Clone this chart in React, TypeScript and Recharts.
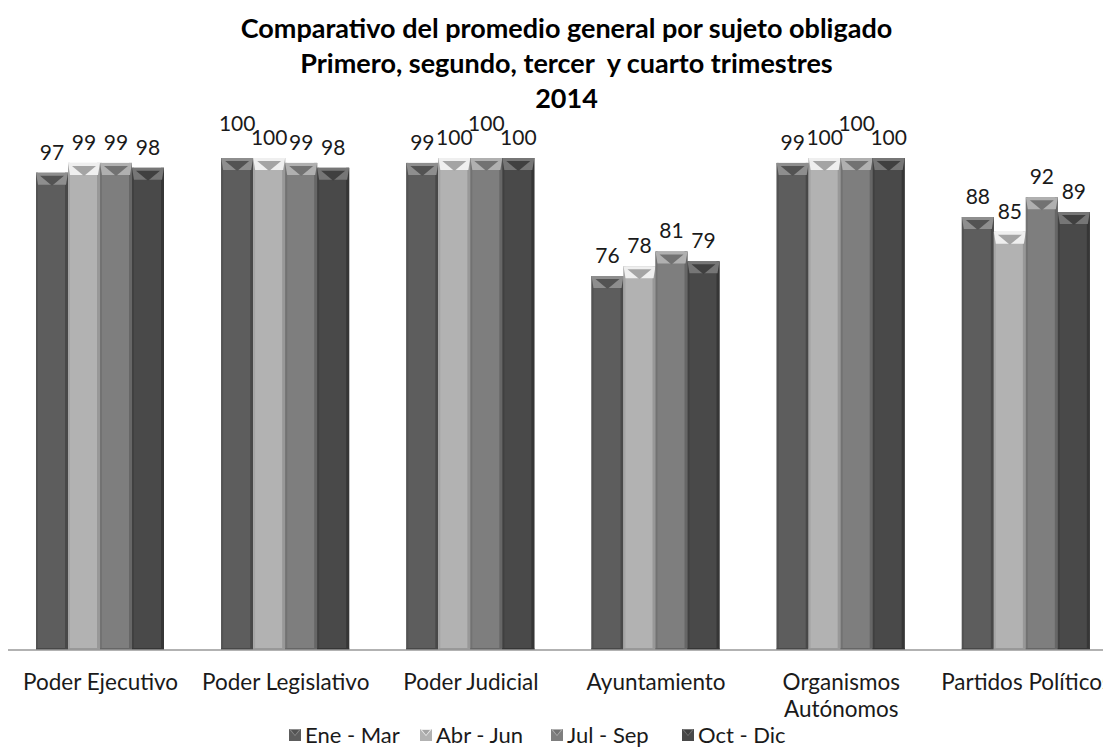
import React from 'react';
import { BarChart, Bar, XAxis, YAxis, LabelList, Legend } from 'recharts';

const categories = [
  'Poder Ejecutivo',
  'Poder Legislativo',
  'Poder Judicial',
  'Ayuntamiento',
  'Organismos Autónomos',
  'Partidos Políticos',
];
const eneMar = [97, 100, 99, 76, 99, 88];
const abrJun = [99, 100, 100, 78, 100, 85];
const julSep = [99, 99, 100, 81, 100, 92];
const octDic = [98, 98, 100, 79, 100, 89];
const seriesNames = ['Ene - Mar', 'Abr - Jun', 'Jul - Sep', 'Oct - Dic'];
const titleLines = [
  'Comparativo del promedio general por sujeto obligado',
  'Primero, segundo, tercer  y cuarto trimestres',
  '2014',
];

const seriesValues = [eneMar, abrJun, julSep, octDic];
const data = categories.map((name, i) => ({
  name,
  s0: eneMar[i],
  s1: abrJun[i],
  s2: julSep[i],
  s3: octDic[i],
}));

const FONT = 'Lato, "Open Sans", sans-serif';
const LABEL_SIZE = 21;

const palette = [
  { base: '#5d5d5d', light: '#8e8e8e', mid: '#535353', edge: '#484848' },
  { base: '#b2b2b2', light: '#efefef', mid: '#a4a4a4', edge: '#989898' },
  { base: '#7e7e7e', light: '#b0b0b0', mid: '#727272', edge: '#666666' },
  { base: '#494949', light: '#767676', mid: '#404040', edge: '#363636' },
];

const makeShape = (si: number) => (props: any) => {
  const { x, y, width: w, height: h } = props;
  if (!w || !h) return null;
  const c = palette[si];
  const b = Math.min(12, h);
  return (
    <g>
      <rect x={x} y={y} width={w} height={h} fill={c.base} />
      <rect x={x} y={y} width={2} height={h} fill={c.mid} />
      <rect x={x + w - 3} y={y} width={3} height={h} fill={c.edge} />
      <polygon
        points={`${x},${y} ${x + w},${y} ${x + w - 2},${y + b} ${x + 2},${y + b}`}
        fill={c.light}
      />
      <polygon
        points={`${x + 4},${y + 3} ${x + w - 4},${y + 3} ${x + w / 2},${y + b + 1}`}
        fill={c.mid}
      />
      <rect x={x} y={y + h - 2} width={w} height={2} fill={c.edge} />
    </g>
  );
};

// Overlap avoidance for data labels: in each category, runs of labels that
// would collide get alternate ones lifted.
const labelWidth = (v: number) => String(v).length * 0.58 * LABEL_SIZE;
const liftedFor = (ci: number, barW: number) => {
  const vals = seriesValues.map((s) => s[ci]);
  const lifted = new Set<number>();
  let run: number[] = [];
  const flush = () => {
    if (run.length > 1) {
      for (let k = 0; k < run.length; k++) {
        if ((run.length - 1 - k) % 2 === 1) lifted.add(run[k]);
      }
    }
    run = [];
  };
  for (let i = 0; i < vals.length; i++) {
    if (run.length === 0) run.push(i);
    const j = i + 1;
    if (j < vals.length) {
      const overlap =
        (labelWidth(vals[i]) + labelWidth(vals[j])) / 2 > barW &&
        Math.abs(vals[i] - vals[j]) <= 2;
      if (overlap) run.push(j);
      else flush();
    } else flush();
  }
  return lifted;
};

const makeLabel = (si: number) => (props: any) => {
  const { x, y, width, value, index } = props;
  const lifted = liftedFor(index, width).has(si);
  return (
    <text
      x={x + width / 2}
      y={y - 13 - (lifted ? 14 : 0)}
      textAnchor="middle"
      fontSize={LABEL_SIZE}
      fontFamily={FONT}
      fill="#1a1a1a"
    >
      {value}
    </text>
  );
};

const Tick = (props: any) => {
  const { x, y, payload } = props;
  const label: string = payload.value;
  let lines = [label];
  if (label.length > 19) {
    const mid = label.length / 2;
    let best = -1;
    for (let i = 0; i < label.length; i++) {
      if (label[i] === ' ' && (best < 0 || Math.abs(i - mid) < Math.abs(best - mid))) best = i;
    }
    if (best > 0) lines = [label.slice(0, best), label.slice(best + 1)];
  }
  return (
    <text
      x={x}
      y={y + 40}
      textAnchor="middle"
      fontSize={22.5}
      fontFamily={FONT}
      fill="#1a1a1a"
    >
      {lines.map((l, i) => (
        <tspan key={i} x={x} dy={i === 0 ? 0 : 27}>
          {l}
        </tspan>
      ))}
    </text>
  );
};

const Marker = ({ si }: { si: number }) => {
  const c = palette[si];
  return (
    <svg width={12} height={12} style={{ display: 'block', flex: 'none' }}>
      <rect x={0} y={0} width={12} height={12} fill={c.base} />
      <polygon points="0,0 12,0 6,7" fill={c.light} />
      <polygon points="2,1 10,1 6,6" fill={c.mid} />
    </svg>
  );
};

const renderLegend = () => (
  <div
    style={{
      display: 'flex',
      alignItems: 'center',
      fontFamily: FONT,
      fontSize: 22,
      color: '#1a1a1a',
      paddingLeft: 289,
    }}
  >
    {seriesNames.map((n, i) => (
      <div
        key={n}
        style={{ display: 'flex', alignItems: 'center', gap: 4, width: 131, flex: 'none' }}
      >
        <Marker si={i} />
        <span style={{ whiteSpace: 'nowrap' }}>{n}</span>
      </div>
    ))}
  </div>
);

const keys = ['s0', 's1', 's2', 's3'];

export default function App() {
  return (
    <div
      style={{
        position: 'absolute',
        left: 0,
        top: 0,
        width: 1103,
        height: 748,
        overflow: 'hidden',
        background: '#ffffff',
      }}
    >
      <div
        style={{
          position: 'absolute',
          left: 0,
          top: 10,
          width: 1103,
          textAlign: 'center',
          fontFamily: FONT,
          fontWeight: 700,
          fontSize: 27,
          lineHeight: '35px',
          color: '#000',
          paddingLeft: 30,
          boxSizing: 'border-box',
          zIndex: 2,
        }}
      >
        {titleLines.map((t) => (
          <div key={t} style={{ whiteSpace: 'pre' }}>
            {t}
          </div>
        ))}
      </div>
      <BarChart
        width={1120}
        height={748}
        data={data}
        margin={{ top: 158, right: 1, bottom: 0, left: 8 }}
        barCategoryGap={28}
        barGap={0}
      >
        <YAxis hide domain={[0, 100]} />
        <XAxis
          dataKey="name"
          height={98}
          tickLine={false}
          tickSize={0}
          tickMargin={0}
          axisLine={{ stroke: '#999999', strokeWidth: 1.5 }}
          tick={<Tick />}
          interval={0}
        />
        <Legend
          verticalAlign="middle"
          align="center"
          layout="horizontal"
          wrapperStyle={{ top: 721, left: 0, width: 1103 }}
          content={renderLegend}
        />
        {keys.map((k, i) => (
          <Bar
            key={k}
            dataKey={k}
            name={seriesNames[i]}
            fill={palette[i].base}
            isAnimationActive={false}
            shape={makeShape(i)}
          >
            <LabelList dataKey={k} content={makeLabel(i)} />
          </Bar>
        ))}
      </BarChart>
    </div>
  );
}
